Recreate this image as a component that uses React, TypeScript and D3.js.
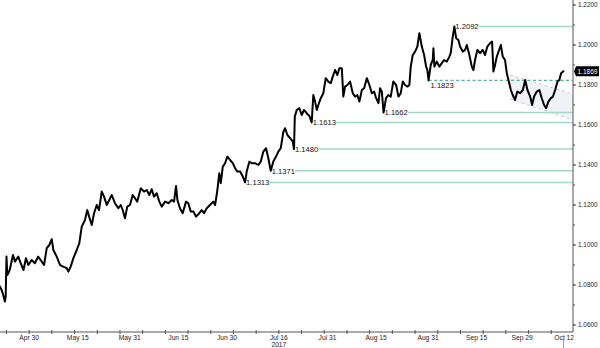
import React from "react";
import * as d3 from "d3";

// ---------- DATA ----------
const priceDates: string[] = [
  "04-21 00","04-21 12","04-22 00","04-22 12","04-22 18","04-23 00","04-23 06","04-24 00","04-25 00","04-25 15",
  "04-26 15","04-27 09","04-28 06","04-29 00","04-29 18","04-30 18","05-01 18","05-02 18","05-03 21","05-04 14",
  "05-05 10","05-06 05","05-06 23","05-07 11","05-08 12","05-09 12","05-10 12","05-11 14","05-12 02","05-12 19",
  "05-13 15","05-14 16","05-15 11","05-16 05","05-17 05","05-17 22","05-18 13","05-19 07","05-20 00","05-20 20",
  "05-21 13","05-22 09","05-23 02","05-23 22","05-24 17","05-25 11","05-26 11","05-27 12","05-28 06","05-28 20",
  "05-29 13","05-30 06","05-31 02","05-31 22","06-01 15","06-02 08","06-03 10","06-04 10","06-05 06","06-06 01",
  "06-06 19","06-07 12","06-08 08","06-09 03","06-09 21","06-10 22","06-11 22","06-12 23","06-13 16","06-14 07",
  "06-14 17","06-15 12","06-16 08","06-17 09","06-18 02","06-18 20","06-19 15","06-20 11","06-21 11","06-22 05",
  "06-22 22","06-23 18","06-24 18","06-25 19","06-26 08","06-27 01","06-27 15","06-28 02","06-28 17","06-29 10",
  "06-30 03","06-30 23","07-01 19","07-02 12","07-03 05","07-04 01","07-04 21","07-05 14","07-06 02","07-06 22",
  "07-07 15","07-08 16","07-09 16","07-10 10","07-11 05","07-12 01","07-12 18","07-13 12","07-14 07","07-15 03",
  "07-15 20","07-16 14","07-17 09","07-17 22","07-18 15","07-19 11","07-20 07","07-20 16","07-20 22","07-21 12",
  "07-22 08","07-23 01","07-23 18","07-24 14","07-25 10","07-26 03","07-26 15","07-27 04","07-27 17","07-28 04",
  "07-28 22","07-29 17","07-30 11","07-31 06","08-01 00","08-01 15","08-02 08","08-03 01","08-03 16","08-04 10",
  "08-04 21","08-05 10","08-06 03","08-06 23","08-07 19","08-08 12","08-09 05","08-09 20","08-10 14","08-11 07",
  "08-12 03","08-12 22","08-13 16","08-14 09","08-15 00","08-15 17","08-16 05","08-16 18","08-17 07","08-18 01",
  "08-18 18","08-19 12","08-20 07","08-21 04","08-21 21","08-22 14","08-23 05","08-23 22","08-24 15","08-25 06",
  "08-25 16","08-26 07","08-27 00","08-27 17","08-28 08","08-29 02","08-29 19","08-30 10","08-30 19","08-31 04",
  "08-31 20","09-01 11","09-01 16","09-01 23","09-02 17","09-03 12","09-04 06","09-04 23","09-05 19","09-06 14",
  "09-07 00","09-07 15","09-08 03","09-08 16","09-09 09","09-09 21","09-10 17","09-11 10","09-11 23","09-12 18",
  "09-13 12","09-14 00","09-14 12","09-15 05","09-16 01","09-16 21","09-17 14","09-18 07","09-19 03","09-19 18",
  "09-20 04","09-20 16","09-21 05","09-21 22","09-22 11","09-23 01","09-23 18","09-24 07","09-24 22","09-25 13",
  "09-26 03","09-26 20","09-27 13","09-28 10","09-29 06","09-29 23","09-30 16","10-01 12","10-02 02","10-02 17",
  "10-03 13","10-04 08","10-05 02","10-05 19","10-06 10","10-07 03","10-07 21","10-08 12","10-09 05","10-09 22",
  "10-10 12","10-11 01","10-11 18",
];

const priceValues: number[] = [
  1.0792,1.0775,1.0750,1.0717,1.0742,1.0942,1.0850,1.0875,1.0950,1.0917,
  1.0942,1.0909,1.0875,1.0934,1.0900,1.0925,1.0909,1.0942,1.0917,1.0900,
  1.0984,1.1000,1.1029,1.0975,1.0942,1.0900,1.0892,1.0884,1.0867,1.0892,
  1.0934,1.0975,1.1009,1.1092,1.1125,1.1175,1.1139,1.1100,1.1159,1.1200,
  1.1175,1.1267,1.1242,1.1200,1.1225,1.1250,1.1209,1.1184,1.1200,1.1175,
  1.1134,1.1192,1.1200,1.1250,1.1234,1.1217,1.1284,1.1267,1.1275,1.1250,
  1.1279,1.1242,1.1259,1.1217,1.1192,1.1217,1.1209,1.1225,1.1217,1.1295,
  1.1225,1.1184,1.1159,1.1217,1.1209,1.1167,1.1167,1.1142,1.1159,1.1175,
  1.1159,1.1184,1.1200,1.1217,1.1200,1.1275,1.1359,1.1309,1.1392,1.1409,
  1.1442,1.1425,1.1409,1.1384,1.1367,1.1367,1.1342,1.1313,1.1367,1.1417,
  1.1409,1.1409,1.1400,1.1417,1.1467,1.1484,1.1434,1.1371,1.1417,1.1442,
  1.1467,1.1484,1.1565,1.1584,1.1550,1.1534,1.1517,1.1480,1.1642,1.1675,
  1.1684,1.1650,1.1675,1.1659,1.1645,1.1613,1.1750,1.1717,1.1675,1.1700,
  1.1734,1.1759,1.1834,1.1817,1.1809,1.1842,1.1875,1.1850,1.1884,1.1884,
  1.1742,1.1792,1.1800,1.1817,1.1759,1.1742,1.1750,1.1717,1.1775,1.1784,
  1.1834,1.1800,1.1759,1.1767,1.1734,1.1709,1.1784,1.1767,1.1662,1.1734,
  1.1750,1.1742,1.1817,1.1800,1.1742,1.1759,1.1817,1.1800,1.1792,1.1800,
  1.1892,1.1950,1.1967,1.1992,1.2059,1.1992,1.1950,1.1892,1.1875,1.1823,
  1.1900,1.1925,1.1984,1.1892,1.1917,1.1892,1.1909,1.1925,1.1917,1.1942,
  1.1959,1.2042,1.2092,1.2034,1.2025,1.1992,1.1967,1.1975,1.2000,1.1950,
  1.1892,1.1875,1.1925,1.1975,1.1959,1.1975,1.1950,1.1992,1.2009,1.2017,
  1.1867,1.1900,1.1942,1.1975,1.2000,1.1942,1.1925,1.1859,1.1817,1.1775,
  1.1750,1.1725,1.1767,1.1759,1.1775,1.1825,1.1775,1.1742,1.1700,1.1742,
  1.1767,1.1775,1.1734,1.1700,1.1684,1.1717,1.1734,1.1742,1.1775,1.1817,
  1.1825,1.1859,1.1869,
];

// support / resistance levels (value, date of the touch)
const levelValues: number[] = [1.2092, 1.1662, 1.1613, 1.1480, 1.1371, 1.1313];
const levelDates: string[] = ["09-08 03", "08-17 07", "07-26 03", "07-20 16", "07-13 12", "07-05 14"];
const dashedLevelValue = 1.1823;
const dashedLevelDate = "08-31 04";

// descending channel
const channelDates: string[] = ["09-25 07", "10-14 17"];
const channelUpper: number[] = [1.185, 1.1755];
const channelLower: number[] = [1.173, 1.1625];

const lastValue = 1.1869;

const xLabels: string[] = ["Apr 30","May 15","May 31","Jun 15","Jun 30","Jul 16","Jul 31","Aug 15","Aug 31","Sep 15","Sep 29","Oct 12"];
const xLabelDates: string[] = ["04-30 00","05-15 00","05-31 00","06-15 00","06-30 00","07-16 00","07-31 00","08-15 00","08-31 00","09-15 00","09-29 00","10-12 00"];
const yTicks: number[] = [1.06, 1.08, 1.10, 1.12, 1.14, 1.16, 1.18, 1.20, 1.22];
const yearLabel = "2017";
const yearLabelDate = "07-16 00";

const domainStart = "04-21 00";
const domainEnd = "10-14 17";

// ---------- CHART ----------
const W = 600;
const H = 348;
const AXIS_X = 573;
const AXIS_Y = 332;
const FONT = "'Liberation Sans', Arial, sans-serif";

const parse = d3.timeParse("%Y-%m-%d %H");
const pd = (s: string) => parse("2017-" + s) as Date;

export default function App() {
  const x = d3.scaleTime().domain([pd(domainStart), pd(domainEnd)]).range([0, AXIS_X]);
  const y = d3.scaleLinear().domain([1.06, 1.22]).range([325, 5]);

  const data = priceDates.map((d, i) => ({ t: pd(d), v: priceValues[i] }));
  const line = d3
    .line<{ t: Date; v: number }>()
    .x((d) => x(d.t))
    .y((d) => y(d.v));

  const weekTicks = d3.timeSunday.range(pd(domainStart), pd(domainEnd));
  const minorY = d3.range(1.06, 1.2201, 0.01);

  const cx0 = x(pd(channelDates[0]));
  const cx1 = x(pd(channelDates[1]));
  const channelPoly = [
    [cx0, y(channelUpper[0])],
    [cx1, y(channelUpper[1])],
    [cx1, y(channelLower[1])],
    [cx0, y(channelLower[0])],
  ]
    .map((p) => p.join(","))
    .join(" ");

  const levelFont = 7.6;
  const labelW = levelFont * 3.06;
  const levelColor = "#a3d8c6";

  const lastY = y(lastValue);
  const endX = x(data[data.length - 1].t);

  return (
    <svg
      width={W}
      height={H}
      style={{ position: "absolute", left: 0, top: 0, background: "#fff" }}
      fontFamily={FONT}
    >
      <rect x={0} y={0} width={W} height={H} fill="#fff" />

      {/* channel */}
      <polygon points={channelPoly} fill="#f0f2f5" />
      <line x1={cx0} y1={y(channelUpper[0])} x2={cx1} y2={y(channelUpper[1])} stroke="#c8cbd0" strokeWidth={1} strokeDasharray="3,3" />
      <line x1={cx0} y1={y(channelLower[0])} x2={cx1} y2={y(channelLower[1])} stroke="#c8cbd0" strokeWidth={1} strokeDasharray="3,3" />

      {/* levels */}
      {levelValues.map((v, i) => {
        const lx = x(pd(levelDates[i])) + 1;
        const ly = y(v);
        return (
          <g key={"lv" + i}>
            <line x1={lx + labelW} x2={AXIS_X} y1={ly} y2={ly} stroke={levelColor} strokeWidth={1.5} />
            <text x={lx} y={ly + 2.7} fontSize={levelFont} fill="#111">
              {v.toFixed(4)}
            </text>
          </g>
        );
      })}
      <line
        x1={x(pd(dashedLevelDate))}
        x2={AXIS_X}
        y1={y(dashedLevelValue)}
        y2={y(dashedLevelValue)}
        stroke="#4fb592"
        strokeWidth={1.3}
        strokeDasharray="3,2.5"
      />
      <text x={x(pd(dashedLevelDate)) + 2} y={y(dashedLevelValue) + 8} fontSize={levelFont} fill="#111">
        {dashedLevelValue.toFixed(4)}
      </text>

      {/* price line */}
      <path d={line(data) || ""} fill="none" stroke="#000" strokeWidth={2} strokeLinejoin="round" strokeLinecap="round" />

      {/* x axis */}
      <line x1={0} x2={AXIS_X} y1={AXIS_Y} y2={AXIS_Y} stroke="#555" strokeWidth={1} />
      {weekTicks.map((t, i) => (
        <line key={"wt" + i} x1={x(t)} x2={x(t)} y1={AXIS_Y - 2} y2={AXIS_Y + 2} stroke="#555" strokeWidth={1} />
      ))}
      {xLabels.map((l, i) => (
        <text key={"xl" + i} x={x(pd(xLabelDates[i]))} y={339.5} fontSize={6.7} textAnchor="middle" fill="#222">
          {l}
        </text>
      ))}
      <text x={x(pd(yearLabelDate))} y={346.5} fontSize={6.7} textAnchor="middle" fill="#222">
        {yearLabel}
      </text>
      <line x1={endX} x2={endX} y1={338} y2={H} stroke="#999" strokeWidth={1} />

      {/* y axis */}
      <line x1={AXIS_X} x2={AXIS_X} y1={0} y2={AXIS_Y} stroke="#555" strokeWidth={1} />
      {minorY.map((v, i) => (
        <line key={"my" + i} x1={AXIS_X} x2={AXIS_X + 2} y1={y(v)} y2={y(v)} stroke="#555" strokeWidth={1} />
      ))}
      {yTicks.map((v, i) => (
        <g key={"yt" + i}>
          <line x1={AXIS_X} x2={AXIS_X + 3} y1={y(v)} y2={y(v)} stroke="#555" strokeWidth={1} />
          <text x={578} y={y(v) + 2.3} fontSize={6.4} fill="#222">
            {v.toFixed(4)}
          </text>
        </g>
      ))}

      {/* last value tag */}
      <path
        d={`M${AXIS_X + 1},${lastY} L${AXIS_X + 3},${lastY - 5} L${599},${lastY - 5} L${599},${lastY + 5} L${AXIS_X + 3},${lastY + 5} Z`}
        fill="#000"
      />
      <text x={577.5} y={lastY + 2.3} fontSize={6.5} fill="#fff">
        {lastValue.toFixed(4)}
      </text>
    </svg>
  );
}
